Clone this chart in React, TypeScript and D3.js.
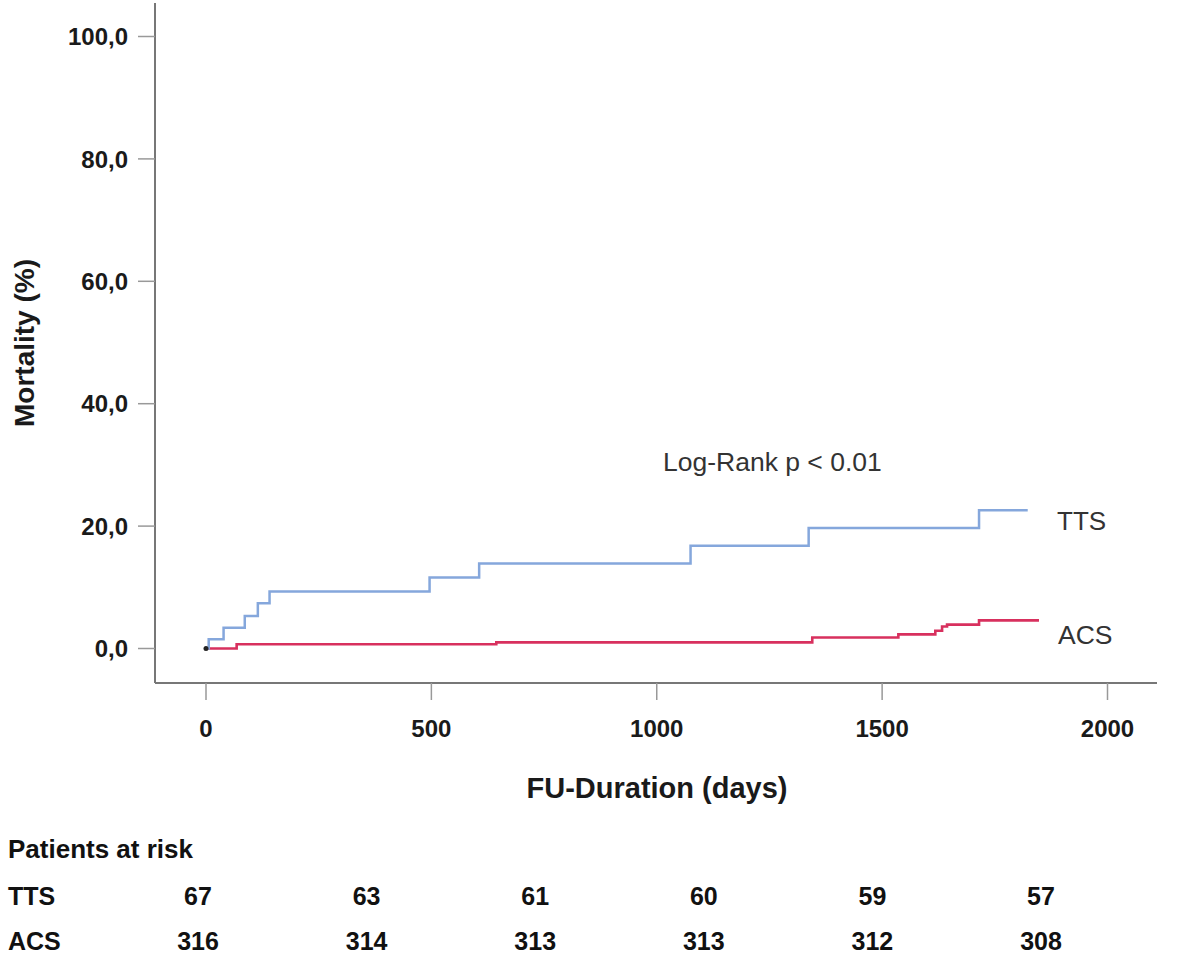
import React from "react";
import * as d3 from "d3";

// ---- data ----
const ttsDays = [0, 6, 39, 86, 115, 141, 496, 606, 1075, 1337, 1715, 1823];
const ttsMortality = [0, 1.5, 3.4, 5.3, 7.4, 9.3, 11.6, 13.9, 16.8, 19.7, 22.6, 22.6];

const acsDays = [0, 68, 644, 1345, 1536, 1618, 1633, 1644, 1715, 1848];
const acsMortality = [0, 0.7, 1.0, 1.8, 2.3, 2.9, 3.6, 3.9, 4.6, 4.6];

const xTicks = [0, 500, 1000, 1500, 2000];
const yTicks = [0, 20, 40, 60, 80, 100];

const riskGroups = ["TTS", "ACS"];
const riskTTS = [67, 63, 61, 60, 59, 57];
const riskACS = [316, 314, 313, 313, 312, 308];

const W = 1181;
const H = 956;
const FONT = "'Liberation Sans', Arial, Helvetica, sans-serif";

export default function App() {
  const x = d3.scaleLinear().domain([0, 2000]).range([206, 1107.5]);
  const y = d3.scaleLinear().domain([0, 100]).range([648.5, 36.5]);
  const axisLeft = 155;
  const axisBottom = 683;

  const line = d3
    .line<[number, number]>()
    .x((d) => x(d[0]))
    .y((d) => y(d[1]))
    .curve(d3.curveStepAfter);

  const ttsPts = ttsDays.map((d, i) => [d, ttsMortality[i]] as [number, number]);
  const acsPts = acsDays.map((d, i) => [d, acsMortality[i]] as [number, number]);

  const riskX = d3.scalePoint<number>().domain(d3.range(riskTTS.length)).range([198, 1041]);
  const riskRows = [riskTTS, riskACS];
  const rowY = [905, 950];

  const fmt = (v: number) => v.toFixed(1).replace(".", ",");

  return (
    <svg
      width={W}
      height={H}
      style={{ position: "absolute", left: 0, top: 0, display: "block", background: "#fff" }}
      fontFamily={FONT}
    >
      <rect x={0} y={0} width={W} height={H} fill="#fff" />
      {/* axes */}
      <line x1={axisLeft} x2={axisLeft} y1={3} y2={axisBottom} stroke="#777" strokeWidth={2} />
      <line x1={axisLeft} x2={1157} y1={axisBottom} y2={axisBottom} stroke="#777" strokeWidth={2} />
      {yTicks.map((t) => (
        <g key={"y" + t}>
          <line x1={138} x2={axisLeft} y1={y(t)} y2={y(t)} stroke="#999" strokeWidth={1.5} />
          <text
            x={128}
            y={y(t)}
            dy="0.36em"
            textAnchor="end"
            fontSize={24}
            fontWeight="bold"
            fill="#1a1a1a"
          >
            {fmt(t)}
          </text>
        </g>
      ))}
      {xTicks.map((t) => (
        <g key={"x" + t}>
          <line x1={x(t)} x2={x(t)} y1={axisBottom} y2={700} stroke="#999" strokeWidth={1.5} />
          <text x={x(t)} y={737} textAnchor="middle" fontSize={24} fontWeight="bold" fill="#1a1a1a">
            {t}
          </text>
        </g>
      ))}
      {/* axis titles */}
      <text x={657} y={798} textAnchor="middle" fontSize={29} fontWeight="bold" fill="#1a1a1a">
        FU-Duration (days)
      </text>
      <text
        transform="translate(34,343) rotate(-90)"
        textAnchor="middle"
        fontSize={28}
        fontWeight="bold"
        fill="#1a1a1a"
      >
        Mortality (%)
      </text>

      {/* curves */}
      <path d={line(acsPts) || ""} fill="none" stroke="#d8305e" strokeWidth={2.6} />
      <path d={line(ttsPts) || ""} fill="none" stroke="#85a7dc" strokeWidth={2.5} />
      <circle cx={x(0)} cy={y(0)} r={2.5} fill="#222" />

      {/* annotations */}
      <text x={663} y={471} fontSize={26.5} fill="#333">
        Log-Rank p &lt; 0.01
      </text>
      <text x={1057} y={530} fontSize={26} fill="#333">
        TTS
      </text>
      <text x={1058} y={644} fontSize={26.5} fill="#333">
        ACS
      </text>

      {/* risk table */}
      <text x={8} y={858} fontSize={26} fontWeight="bold" fill="#111">
        Patients at risk
      </text>
      {riskRows.map((row, r) => (
        <g key={"r" + r}>
          <text x={8} y={rowY[r]} fontSize={25} fontWeight="bold" fill="#111">
            {riskGroups[r]}
          </text>
          {row.map((v, i) => (
            <text
              key={i}
              x={riskX(i)}
              y={rowY[r]}
              textAnchor="middle"
              fontSize={25}
              fontWeight="bold"
              fill="#111"
            >
              {v}
            </text>
          ))}
        </g>
      ))}
    </svg>
  );
}
